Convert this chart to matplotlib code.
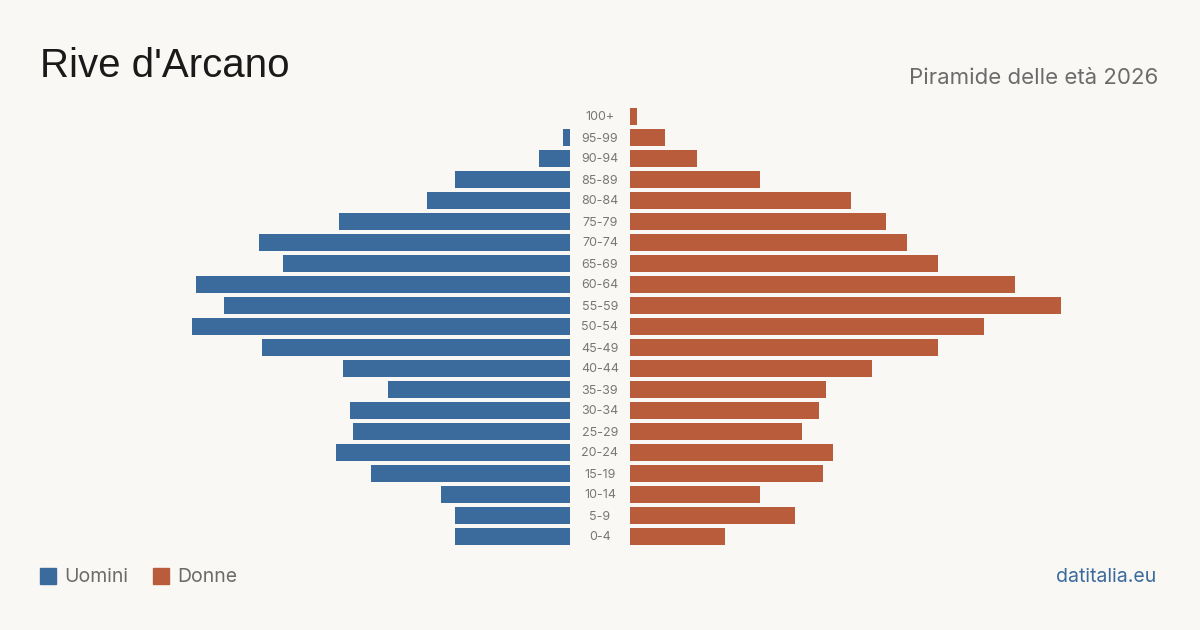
import matplotlib.pyplot as plt
from matplotlib.patches import Rectangle

ages = ["100+", "95-99", "90-94", "85-89", "80-84", "75-79", "70-74", "65-69",
        "60-64", "55-59", "50-54", "45-49", "40-44", "35-39", "30-34", "25-29",
        "20-24", "15-19", "10-14", "5-9", "0-4"]
uomini = [0, 2, 9, 33, 41, 66, 89, 82, 107, 99, 108, 88, 65, 52, 63, 62,
          67, 57, 37, 33, 33]
donne = [2, 10, 19, 37, 63, 73, 79, 88, 110, 123, 101, 88, 69, 56, 54, 49,
         58, 55, 37, 47, 27]

BG = "#f9f8f4"
BLUE = "#3b6b9c"
ORANGE = "#b95c3c"
W, H = 1200, 630
SCALE = 3.5  # px per person

fig = plt.figure(figsize=(12, 6.3), dpi=100, facecolor=BG)

top, bottom = 106, 547
ax_l = fig.add_axes([170 / W, 1 - bottom / H, 400 / W, (bottom - top) / H])
ax_r = fig.add_axes([630 / W, 1 - bottom / H, 440 / W, (bottom - top) / H])

y = list(range(len(ages)))
ax_l.barh(y, uomini, height=0.8, color=BLUE)
ax_r.barh(y, donne, height=0.8, color=ORANGE)
ax_l.set_xlim(400 / SCALE, 0)
ax_r.set_xlim(0, 440 / SCALE)
for ax in (ax_l, ax_r):
    ax.set_ylim(len(ages) - 0.5, -0.5)
    ax.axis("off")

for i, a in enumerate(ages):
    fig.text(600 / W, 1 - (117.5 + 21 * i) / H, a, ha="center", va="center",
             fontsize=9, color="#777777", family="Inter")

fig.text(40 / W, 1 - 66 / H, "Rive d'Arcano", fontsize=29, color="#1a1a1a",
         va="center", ha="left", family="Liberation Sans")
fig.text(1158 / W, 1 - 77.5 / H, "Piramide delle età 2026", fontsize=16,
         color="#6b6b6b", va="center", ha="right", family="Inter")

fig.patches.append(Rectangle((40 / W, 1 - 584 / H), 16 / W, 16 / H,
                             transform=fig.transFigure, color=BLUE))
fig.text(64 / W, 1 - 577 / H, "Uomini", fontsize=14, color="#6b6b6b",
         va="center", ha="left", family="Inter")
fig.patches.append(Rectangle((153 / W, 1 - 584 / H), 16 / W, 16 / H,
                             transform=fig.transFigure, color=ORANGE))
fig.text(177 / W, 1 - 577 / H, "Donne", fontsize=14, color="#6b6b6b",
         va="center", ha="left", family="Inter")

fig.text(1156 / W, 1 - 577 / H, "datitalia.eu", fontsize=14, color=BLUE,
         va="center", ha="right", family="Inter")

fig.savefig("out.png", dpi=100, facecolor=BG)
